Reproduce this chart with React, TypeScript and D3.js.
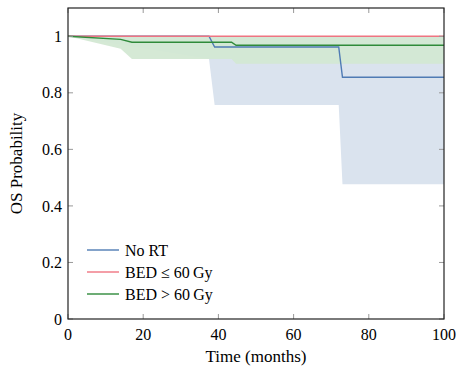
import * as d3 from 'd3'

// Kaplan–Meier estimates (time in months, survival probability)
const noRtTime = [0, 37.5, 39, 72, 73, 100]
const noRtSurv = [1, 1, 0.962, 0.962, 0.855, 0.855]
const noRtLower = [1, 0.92, 0.757, 0.757, 0.477, 0.477]
const noRtUpper = [1, 1, 1, 1, 1, 1]

const bedLowTime = [0, 100]
const bedLowSurv = [1, 1]

const bedHighTime = [0, 14, 17, 43.5, 44.7, 100]
const bedHighSurv = [1, 0.989, 0.979, 0.979, 0.968, 0.968]
const bedHighLower = [1, 0.956, 0.92, 0.92, 0.903, 0.903]
const bedHighUpper = [1, 1, 1, 1, 1, 1]

const xTicks = [0, 20, 40, 60, 80, 100]
const yTicks = [0, 0.2, 0.4, 0.6, 0.8, 1]
const legendLabels = ['No RT', 'BED \u2264 60\u2009Gy', 'BED > 60\u2009Gy']

const BLUE = '#4f7bb4'
const RED = '#ef7482'
const GREEN = '#2f8a3a'
const FONT = "'Liberation Serif', 'Times New Roman', 'DejaVu Serif', serif"

export default function App() {
  const width = 458
  const height = 371
  const margin = { top: 8, right: 14, bottom: 52, left: 68 }
  const innerW = width - margin.left - margin.right
  const innerH = height - margin.top - margin.bottom

  const x = d3.scaleLinear().domain([0, 100]).range([0, innerW])
  const y = d3.scaleLinear().domain([0, 1.1]).range([innerH, 0])

  const pts = (t: number[], s: number[]) => t.map((v, i) => [v, s[i]] as [number, number])
  const line = d3.line<[number, number]>().x(d => x(d[0])).y(d => y(d[1]))
  const area = d3.area<[number, number, number]>()
    .x(d => x(d[0])).y0(d => y(d[1])).y1(d => y(d[2]))
  const band = (t: number[], lo: number[], hi: number[]) =>
    t.map((v, i) => [v, lo[i], hi[i]] as [number, number, number])

  const tickLen = 5

  return (
    <svg width={width} height={height} style={{ position: 'absolute', left: 0, top: 0, fontFamily: FONT }}>
      <g transform={`translate(${margin.left},${margin.top})`}>
        <path d={area(band(noRtTime, noRtLower, noRtUpper))!} fill="#dae3ee" />
        <path d={area(band(bedHighTime, bedHighLower, bedHighUpper))!} fill="#d3e8d3" fillOpacity={0.95} />

        <path d={line(pts(noRtTime, noRtSurv))!} fill="none" stroke={BLUE} strokeWidth={1.4} />
        <path d={line(pts(bedLowTime, bedLowSurv))!} fill="none" stroke={RED} strokeWidth={1.4} />
        <path d={line(pts(bedHighTime, bedHighSurv))!} fill="none" stroke={GREEN} strokeWidth={1.4} />

        {/* ticks */}
        {xTicks.map(t => (
          <g key={`x${t}`}>
            <line x1={x(t)} x2={x(t)} y1={innerH} y2={innerH - tickLen} stroke="#999" />
            <line x1={x(t)} x2={x(t)} y1={0} y2={tickLen} stroke="#999" />
            <text x={x(t)} y={innerH + 21} textAnchor="middle" fontSize={16}>{t}</text>
          </g>
        ))}
        {yTicks.map(t => (
          <g key={`y${t}`}>
            <line x1={0} x2={tickLen} y1={y(t)} y2={y(t)} stroke="#999" />
            <line x1={innerW} x2={innerW - tickLen} y1={y(t)} y2={y(t)} stroke="#999" />
            <text x={-6} y={y(t)} dy="0.35em" textAnchor="end" fontSize={16}>{t}</text>
          </g>
        ))}

        <rect x={0} y={0} width={innerW} height={innerH} fill="none" stroke="#222" strokeWidth={1.2} />

        {/* legend */}
        {legendLabels.map((l, i) => (
          <g key={l} transform={`translate(19,${242 + i * 22})`}>
            <line x1={0} x2={32} y1={0} y2={0} stroke={[BLUE, RED, GREEN][i]} strokeWidth={1.4} />
            <text x={38} y={0} dy="0.35em" fontSize={16}>{l}</text>
          </g>
        ))}
      </g>
      <text x={margin.left + innerW / 2} y={362} textAnchor="middle" fontSize={17}>Time (months)</text>
      <text transform={`translate(22,${margin.top + innerH / 2}) rotate(-90)`} textAnchor="middle" fontSize={17}>OS Probability</text>
    </svg>
  )
}
